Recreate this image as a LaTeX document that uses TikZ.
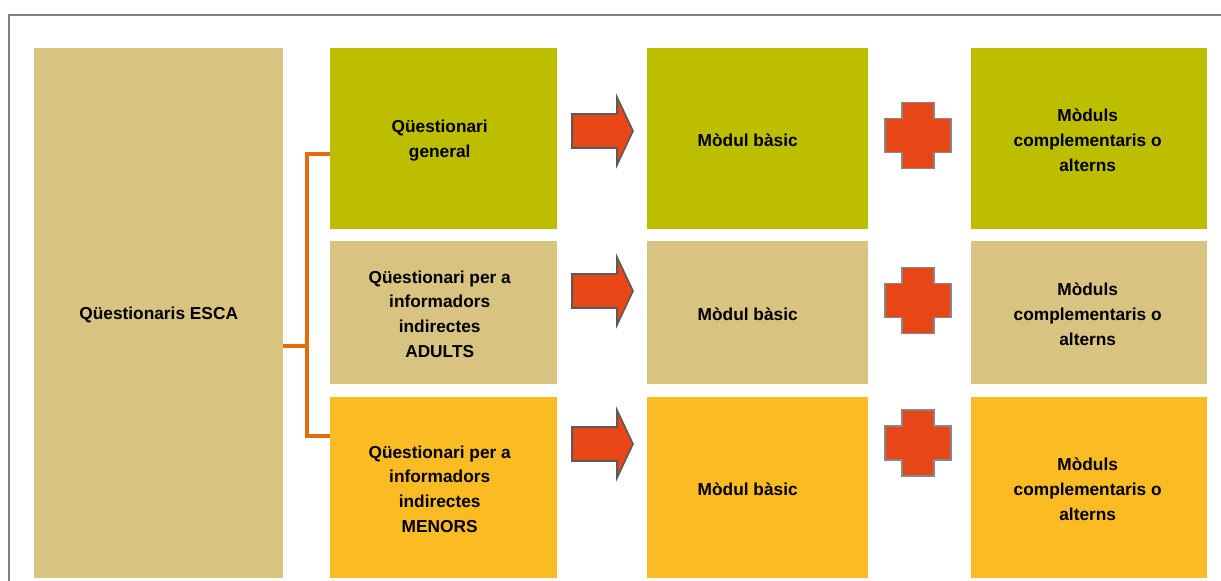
\documentclass[tikz,border=0pt]{standalone}
\usepackage{fontspec}
\setmainfont{Liberation Sans}
\definecolor{cGreen}{RGB}{189,190,0}
\definecolor{cTan}{RGB}{217,195,128}
\definecolor{cYellow}{RGB}{250,188,34}
\definecolor{cConn}{RGB}{228,108,10}
\definecolor{cRed}{RGB}{232,70,22}
\definecolor{cArrowLine}{RGB}{90,90,90}
\definecolor{cPlusLine}{RGB}{135,135,135}
\definecolor{cFrame}{RGB}{128,128,128}
\begin{document}
\begin{tikzpicture}[x=1pt,y=-1pt,
  box/.style={fill=#1, draw=none, anchor=north west, inner sep=0pt},
  lbl/.style={inner sep=0pt, align=center, font=\fontsize{17.3}{24.8}\selectfont\bfseries},
  conn/.style={draw=cConn, line width=4pt, line join=miter},
  arrowpic/.pic={\draw[fill=cRed, draw=cArrowLine, line width=1.6pt, line join=miter]
      (0,-17) -- (45,-17) -- (45,-34) -- (61,0) -- (45,34) -- (45,17) -- (0,17) -- cycle;},
  pluspic/.pic={\draw[fill=cRed, draw=cPlusLine, line width=1.6pt, line join=miter]
      (-16,-33) -- (16,-33) -- (16,-17) -- (33,-17) -- (33,17) -- (16,17) -- (16,33)
      -- (-16,33) -- (-16,17) -- (-33,17) -- (-33,-17) -- (-16,-17) -- cycle;}
]
\useasboundingbox (0,0) rectangle (1221,581);
\fill[white] (0,0) rectangle (1221,581);
\draw[cFrame, line width=2pt] (9,581) -- (9,15) -- (1221,15);

% left column
\node[box=cTan, minimum width=249pt, minimum height=530pt] (esca) at (34,48) {};
\node[lbl] (escat) at ([yshift=-1.5pt]esca.center) {Qüestionaris ESCA};

% column 2
\node[box=cGreen, minimum width=227pt, minimum height=181pt] (q1) at (330,48) {};
\node[box=cTan, minimum width=227pt, minimum height=143pt] (q2) at (330,241) {};
\node[box=cYellow, minimum width=227pt, minimum height=181pt] (q3) at (330,397) {};
\node[lbl] (q1t) at ([xshift=-4pt,yshift=-1.5pt]q1.center) {Qüestionari\\general};
\node[lbl] (q2t) at ([xshift=-4pt,yshift=-1.5pt]q2.center) {Qüestionari per a\\informadors\\indirectes\\ADULTS};
\node[lbl] (q3t) at ([xshift=-4pt,yshift=-1.5pt]q3.center) {Qüestionari per a\\informadors\\indirectes\\MENORS};

% column 3
\node[box=cGreen, minimum width=221pt, minimum height=181pt] (b1) at (647,48) {};
\node[box=cTan, minimum width=221pt, minimum height=143pt] (b2) at (647,241) {};
\node[box=cYellow, minimum width=221pt, minimum height=181pt] (b3) at (647,397) {};
\node[lbl] (b1t) at ([xshift=-10pt,yshift=-1.5pt]b1.center) {Mòdul bàsic};
\node[lbl] (b2t) at ([xshift=-10pt,yshift=-1.5pt]b2.center) {Mòdul bàsic};
\node[lbl] (b3t) at ([xshift=-10pt,yshift=-1.5pt]b3.center) {Mòdul bàsic};

% column 4
\node[box=cGreen, minimum width=236pt, minimum height=181pt] (m1) at (971,48) {};
\node[box=cTan, minimum width=236pt, minimum height=143pt] (m2) at (971,241) {};
\node[box=cYellow, minimum width=236pt, minimum height=181pt] (m3) at (971,397) {};
\node[lbl] (m1t) at ([xshift=-1.5pt,yshift=-1.5pt]m1.center) {Mòduls\\complementaris o\\alterns};
\node[lbl] (m2t) at ([xshift=-1.5pt,yshift=-1.5pt]m2.center) {Mòduls\\complementaris o\\alterns};
\node[lbl] (m3t) at ([xshift=-1.5pt,yshift=-1.5pt]m3.center) {Mòduls\\complementaris o\\alterns};

% connectors
\coordinate (jm) at (307,346);
\coordinate (jt) at (307,154);
\coordinate (jb) at (307,436);
\draw[conn] (esca.east |- jm) -- (jm);
\draw[conn] (q1.west |- jt) -- (jt) -- (jb) -- (q3.west |- jb);

% arrows
\pic at (572,131) {arrowpic};
\pic at (572,291) {arrowpic};
\pic at (572,444) {arrowpic};

% plus signs
\pic at (918,135.5) {pluspic};
\pic at (918,300.5) {pluspic};
\pic at (918,443) {pluspic};
\end{tikzpicture}
\end{document}
